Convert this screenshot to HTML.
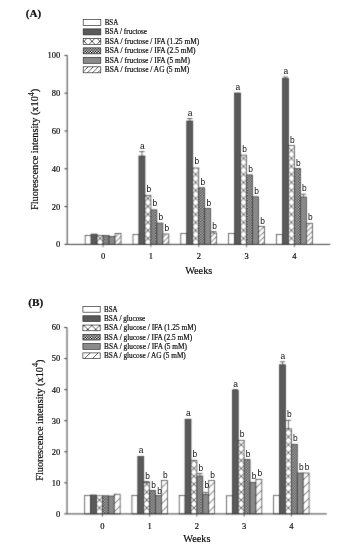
<!DOCTYPE html>
<html><head><meta charset="utf-8"><style>
html,body{margin:0;padding:0;background:#fff;width:349px;height:550px;overflow:hidden;}
svg{display:block;will-change:transform;}
text{fill:#111;stroke:#111;stroke-width:0.2px;}
.lb{stroke-width:0;}
</style></head><body>
<svg width="349" height="550" viewBox="0 0 349 550">
<defs><pattern id="pC" patternUnits="userSpaceOnUse" width="2.6" height="2.6"><rect width="2.6" height="2.6" fill="#ffffff"/><rect width="1.3" height="1.3" fill="#000000"/><rect x="1.3" y="1.3" width="1.3" height="1.3" fill="#000000"/></pattern>
<pattern id="px1" patternUnits="userSpaceOnUse" x="96.09" y="234.4" width="8" height="8"><rect width="8" height="8" fill="#fff"/><path d="M0,0L8,8M8,0L0,8" stroke="#333333" stroke-width="0.8" fill="none"/></pattern>
<pattern id="ph2" patternUnits="userSpaceOnUse" x="357.44" y="0" width="5.1" height="5.1"><rect width="5.1" height="5.1" fill="#fff"/><path d="M-1,1L1,-1M-1,6.1L6.1,-1M4.1,6.1L6.1,4.1" stroke="#333333" stroke-width="0.8" fill="none"/></pattern>
<pattern id="px3" patternUnits="userSpaceOnUse" x="143.92" y="234.4" width="8" height="8"><rect width="8" height="8" fill="#fff"/><path d="M0,0L8,8M8,0L0,8" stroke="#333333" stroke-width="0.8" fill="none"/></pattern>
<pattern id="ph4" patternUnits="userSpaceOnUse" x="405.27" y="0" width="5.1" height="5.1"><rect width="5.1" height="5.1" fill="#fff"/><path d="M-1,1L1,-1M-1,6.1L6.1,-1M4.1,6.1L6.1,4.1" stroke="#333333" stroke-width="0.8" fill="none"/></pattern>
<pattern id="px5" patternUnits="userSpaceOnUse" x="191.76" y="234.4" width="8" height="8"><rect width="8" height="8" fill="#fff"/><path d="M0,0L8,8M8,0L0,8" stroke="#333333" stroke-width="0.8" fill="none"/></pattern>
<pattern id="ph6" patternUnits="userSpaceOnUse" x="453.11" y="0" width="5.1" height="5.1"><rect width="5.1" height="5.1" fill="#fff"/><path d="M-1,1L1,-1M-1,6.1L6.1,-1M4.1,6.1L6.1,4.1" stroke="#333333" stroke-width="0.8" fill="none"/></pattern>
<pattern id="px7" patternUnits="userSpaceOnUse" x="239.6" y="234.4" width="8" height="8"><rect width="8" height="8" fill="#fff"/><path d="M0,0L8,8M8,0L0,8" stroke="#333333" stroke-width="0.8" fill="none"/></pattern>
<pattern id="ph8" patternUnits="userSpaceOnUse" x="500.95" y="0" width="5.1" height="5.1"><rect width="5.1" height="5.1" fill="#fff"/><path d="M-1,1L1,-1M-1,6.1L6.1,-1M4.1,6.1L6.1,4.1" stroke="#333333" stroke-width="0.8" fill="none"/></pattern>
<pattern id="px9" patternUnits="userSpaceOnUse" x="287.43" y="234.4" width="8" height="8"><rect width="8" height="8" fill="#fff"/><path d="M0,0L8,8M8,0L0,8" stroke="#333333" stroke-width="0.8" fill="none"/></pattern>
<pattern id="ph10" patternUnits="userSpaceOnUse" x="548.78" y="0" width="5.1" height="5.1"><rect width="5.1" height="5.1" fill="#fff"/><path d="M-1,1L1,-1M-1,6.1L6.1,-1M4.1,6.1L6.1,4.1" stroke="#333333" stroke-width="0.8" fill="none"/></pattern>
<pattern id="px11" patternUnits="userSpaceOnUse" x="88" y="37.36" width="8" height="8"><rect width="8" height="8" fill="#fff"/><path d="M0,0L8,8M8,0L0,8" stroke="#333333" stroke-width="0.8" fill="none"/></pattern>
<pattern id="ph12" patternUnits="userSpaceOnUse" x="155" y="0" width="5.1" height="5.1"><rect width="5.1" height="5.1" fill="#fff"/><path d="M-1,1L1,-1M-1,6.1L6.1,-1M4.1,6.1L6.1,4.1" stroke="#333333" stroke-width="0.8" fill="none"/></pattern>
<pattern id="px13" patternUnits="userSpaceOnUse" x="95.53" y="503.95" width="7.9" height="7.9"><rect width="7.9" height="7.9" fill="#fff"/><path d="M0,0L7.9,7.9M7.9,0L0,7.9" stroke="#333333" stroke-width="0.8" fill="none"/></pattern>
<pattern id="ph14" patternUnits="userSpaceOnUse" x="626.14" y="0" width="8" height="8"><rect width="8" height="8" fill="#fff"/><path d="M-1,1L1,-1M-1,9L9,-1M7,9L9,7" stroke="#333333" stroke-width="0.8" fill="none"/></pattern>
<pattern id="px15" patternUnits="userSpaceOnUse" x="142.76" y="503.95" width="7.9" height="7.9"><rect width="7.9" height="7.9" fill="#fff"/><path d="M0,0L7.9,7.9M7.9,0L0,7.9" stroke="#333333" stroke-width="0.8" fill="none"/></pattern>
<pattern id="ph16" patternUnits="userSpaceOnUse" x="673.37" y="0" width="8" height="8"><rect width="8" height="8" fill="#fff"/><path d="M-1,1L1,-1M-1,9L9,-1M7,9L9,7" stroke="#333333" stroke-width="0.8" fill="none"/></pattern>
<pattern id="px17" patternUnits="userSpaceOnUse" x="190" y="503.95" width="7.9" height="7.9"><rect width="7.9" height="7.9" fill="#fff"/><path d="M0,0L7.9,7.9M7.9,0L0,7.9" stroke="#333333" stroke-width="0.8" fill="none"/></pattern>
<pattern id="ph18" patternUnits="userSpaceOnUse" x="720.61" y="0" width="8" height="8"><rect width="8" height="8" fill="#fff"/><path d="M-1,1L1,-1M-1,9L9,-1M7,9L9,7" stroke="#333333" stroke-width="0.8" fill="none"/></pattern>
<pattern id="px19" patternUnits="userSpaceOnUse" x="237.23" y="503.95" width="7.9" height="7.9"><rect width="7.9" height="7.9" fill="#fff"/><path d="M0,0L7.9,7.9M7.9,0L0,7.9" stroke="#333333" stroke-width="0.8" fill="none"/></pattern>
<pattern id="ph20" patternUnits="userSpaceOnUse" x="767.85" y="0" width="8" height="8"><rect width="8" height="8" fill="#fff"/><path d="M-1,1L1,-1M-1,9L9,-1M7,9L9,7" stroke="#333333" stroke-width="0.8" fill="none"/></pattern>
<pattern id="px21" patternUnits="userSpaceOnUse" x="284.47" y="503.95" width="7.9" height="7.9"><rect width="7.9" height="7.9" fill="#fff"/><path d="M0,0L7.9,7.9M7.9,0L0,7.9" stroke="#333333" stroke-width="0.8" fill="none"/></pattern>
<pattern id="ph22" patternUnits="userSpaceOnUse" x="815.08" y="0" width="8" height="8"><rect width="8" height="8" fill="#fff"/><path d="M-1,1L1,-1M-1,9L9,-1M7,9L9,7" stroke="#333333" stroke-width="0.8" fill="none"/></pattern>
<pattern id="px23" patternUnits="userSpaceOnUse" x="87.8" y="321.51" width="7.9" height="7.9"><rect width="7.9" height="7.9" fill="#fff"/><path d="M0,0L7.9,7.9M7.9,0L0,7.9" stroke="#333333" stroke-width="0.8" fill="none"/></pattern>
<pattern id="ph24" patternUnits="userSpaceOnUse" x="443.1" y="0" width="8" height="8"><rect width="8" height="8" fill="#fff"/><path d="M-1,1L1,-1M-1,9L9,-1M7,9L9,7" stroke="#333333" stroke-width="0.8" fill="none"/></pattern>
<filter id="soft" filterUnits="userSpaceOnUse" x="0" y="0" width="349" height="550" color-interpolation-filters="sRGB"><feConvolveMatrix order="3" kernelMatrix="1 5 1 5 24 5 1 5 1" edgeMode="duplicate"/></filter></defs>
<g filter="url(#soft)">
<rect width="349" height="550" fill="#fff"/>
<rect x="85.14" y="235.4" width="5.98" height="9" fill="#ffffff" stroke="#333333" stroke-width="0.7"/>
<rect x="91.12" y="234.1" width="5.98" height="10.3" fill="#5a5a5a" stroke="#333333" stroke-width="0.7"/>
<rect x="97.1" y="235.6" width="5.98" height="8.8" fill="url(#px1)" stroke="#333333" stroke-width="0.7"/>
<rect x="103.08" y="235.6" width="5.98" height="8.8" fill="url(#pC)" stroke="#333333" stroke-width="0.7"/>
<rect x="109.06" y="236.4" width="5.98" height="8" fill="#8a8a8a" stroke="#333333" stroke-width="0.7"/>
<rect x="115.04" y="233.4" width="5.98" height="11" fill="url(#ph2)" stroke="#333333" stroke-width="0.7"/>
<path d="M103.08,244.4V247.2" stroke="#333333" stroke-width="0.7"/>
<rect x="132.98" y="234.4" width="5.98" height="10" fill="#ffffff" stroke="#333333" stroke-width="0.7"/>
<rect x="138.95" y="156" width="5.98" height="88.4" fill="#5a5a5a" stroke="#333333" stroke-width="0.7"/>
<path d="M141.94,156V151.6M139.24,151.6H144.64" stroke="#444444" stroke-width="0.8" fill="none"/>
<rect x="144.93" y="195.4" width="5.98" height="49" fill="url(#px3)" stroke="#333333" stroke-width="0.7"/>
<rect x="150.91" y="209.9" width="5.98" height="34.5" fill="url(#pC)" stroke="#333333" stroke-width="0.7"/>
<rect x="156.89" y="223.1" width="5.98" height="21.3" fill="#8a8a8a" stroke="#333333" stroke-width="0.7"/>
<rect x="162.87" y="234" width="5.98" height="10.4" fill="url(#ph4)" stroke="#333333" stroke-width="0.7"/>
<path d="M150.91,244.4V247.2" stroke="#333333" stroke-width="0.7"/>
<rect x="180.81" y="233.6" width="5.98" height="10.8" fill="#ffffff" stroke="#333333" stroke-width="0.7"/>
<rect x="186.79" y="121" width="5.98" height="123.4" fill="#5a5a5a" stroke="#333333" stroke-width="0.7"/>
<path d="M189.78,121V118.5M187.08,118.5H192.48" stroke="#444444" stroke-width="0.8" fill="none"/>
<rect x="192.77" y="168" width="5.98" height="76.4" fill="url(#px5)" stroke="#333333" stroke-width="0.7"/>
<rect x="198.75" y="187.8" width="5.98" height="56.6" fill="url(#pC)" stroke="#333333" stroke-width="0.7"/>
<rect x="204.73" y="208.5" width="5.98" height="35.9" fill="#8a8a8a" stroke="#333333" stroke-width="0.7"/>
<rect x="210.71" y="233" width="5.98" height="11.4" fill="url(#ph6)" stroke="#333333" stroke-width="0.7"/>
<path d="M213.7,233V231.6M211,231.6H216.4" stroke="#444444" stroke-width="0.8" fill="none"/>
<path d="M198.75,244.4V247.2" stroke="#333333" stroke-width="0.7"/>
<rect x="228.65" y="233.6" width="5.98" height="10.8" fill="#ffffff" stroke="#333333" stroke-width="0.7"/>
<rect x="234.63" y="93" width="5.98" height="151.4" fill="#5a5a5a" stroke="#333333" stroke-width="0.7"/>
<rect x="240.61" y="155.1" width="5.98" height="89.3" fill="url(#px7)" stroke="#333333" stroke-width="0.7"/>
<rect x="246.59" y="174.9" width="5.98" height="69.5" fill="url(#pC)" stroke="#333333" stroke-width="0.7"/>
<rect x="252.57" y="196.8" width="5.98" height="47.6" fill="#8a8a8a" stroke="#333333" stroke-width="0.7"/>
<rect x="258.55" y="226.6" width="5.98" height="17.8" fill="url(#ph8)" stroke="#333333" stroke-width="0.7"/>
<path d="M246.59,244.4V247.2" stroke="#333333" stroke-width="0.7"/>
<rect x="276.48" y="234.4" width="5.98" height="10" fill="#ffffff" stroke="#333333" stroke-width="0.7"/>
<rect x="282.46" y="78.5" width="5.98" height="165.9" fill="#5a5a5a" stroke="#333333" stroke-width="0.7"/>
<path d="M285.45,78.5V77M282.75,77H288.15" stroke="#444444" stroke-width="0.8" fill="none"/>
<rect x="288.44" y="145.5" width="5.98" height="98.9" fill="url(#px9)" stroke="#333333" stroke-width="0.7"/>
<rect x="294.42" y="168.5" width="5.98" height="75.9" fill="url(#pC)" stroke="#333333" stroke-width="0.7"/>
<rect x="300.4" y="197" width="5.98" height="47.4" fill="#8a8a8a" stroke="#333333" stroke-width="0.7"/>
<path d="M303.39,197V194.2M300.69,194.2H306.09" stroke="#444444" stroke-width="0.8" fill="none"/>
<rect x="306.38" y="223.3" width="5.98" height="21.1" fill="url(#ph10)" stroke="#333333" stroke-width="0.7"/>
<path d="M294.42,244.4V247.2" stroke="#333333" stroke-width="0.7"/>
<path d="M67.2,55.4V244.4H330.3" stroke="#3c3c3c" stroke-width="1.0" fill="none"/>
<path d="M64.4,244.4H67.2" stroke="#3c3c3c" stroke-width="1.0"/>
<path d="M64.4,206.6H67.2" stroke="#3c3c3c" stroke-width="1.0"/>
<path d="M64.4,168.8H67.2" stroke="#3c3c3c" stroke-width="1.0"/>
<path d="M64.4,131H67.2" stroke="#3c3c3c" stroke-width="1.0"/>
<path d="M64.4,93.2H67.2" stroke="#3c3c3c" stroke-width="1.0"/>
<path d="M64.4,55.4H67.2" stroke="#3c3c3c" stroke-width="1.0"/>
<rect x="84.71" y="495.4" width="5.9" height="18.5" fill="#ffffff" stroke="#333333" stroke-width="0.7"/>
<rect x="90.62" y="495" width="5.9" height="18.9" fill="#5a5a5a" stroke="#333333" stroke-width="0.7"/>
<rect x="96.52" y="495.8" width="5.9" height="18.1" fill="url(#px13)" stroke="#333333" stroke-width="0.7"/>
<rect x="102.43" y="495.8" width="5.9" height="18.1" fill="url(#pC)" stroke="#333333" stroke-width="0.7"/>
<rect x="108.33" y="496" width="5.9" height="17.9" fill="#8a8a8a" stroke="#333333" stroke-width="0.7"/>
<rect x="114.24" y="494.2" width="5.9" height="19.7" fill="url(#ph14)" stroke="#333333" stroke-width="0.7"/>
<path d="M102.43,513.9V516.7" stroke="#333333" stroke-width="0.7"/>
<rect x="131.95" y="495.5" width="5.9" height="18.4" fill="#ffffff" stroke="#333333" stroke-width="0.7"/>
<rect x="137.85" y="456.5" width="5.9" height="57.4" fill="#5a5a5a" stroke="#333333" stroke-width="0.7"/>
<rect x="143.76" y="482.6" width="5.9" height="31.3" fill="url(#px15)" stroke="#333333" stroke-width="0.7"/>
<path d="M146.71,482.6V481.6M144.01,481.6H149.41" stroke="#444444" stroke-width="0.8" fill="none"/>
<rect x="149.66" y="490.5" width="5.9" height="23.4" fill="url(#pC)" stroke="#333333" stroke-width="0.7"/>
<rect x="155.57" y="495.6" width="5.9" height="18.3" fill="#8a8a8a" stroke="#333333" stroke-width="0.7"/>
<rect x="161.47" y="480.6" width="5.9" height="33.3" fill="url(#ph16)" stroke="#333333" stroke-width="0.7"/>
<path d="M149.66,513.9V516.7" stroke="#333333" stroke-width="0.7"/>
<rect x="179.19" y="495.4" width="5.9" height="18.5" fill="#ffffff" stroke="#333333" stroke-width="0.7"/>
<rect x="185.09" y="419.2" width="5.9" height="94.7" fill="#5a5a5a" stroke="#333333" stroke-width="0.7"/>
<rect x="191" y="460.3" width="5.9" height="53.6" fill="url(#px17)" stroke="#333333" stroke-width="0.7"/>
<rect x="196.9" y="476" width="5.9" height="37.9" fill="url(#pC)" stroke="#333333" stroke-width="0.7"/>
<path d="M199.85,476V473.5M197.15,473.5H202.55" stroke="#444444" stroke-width="0.8" fill="none"/>
<rect x="202.8" y="494.5" width="5.9" height="19.4" fill="#8a8a8a" stroke="#333333" stroke-width="0.7"/>
<path d="M205.76,494.5V492.5M203.06,492.5H208.46" stroke="#444444" stroke-width="0.8" fill="none"/>
<rect x="208.71" y="480.5" width="5.9" height="33.4" fill="url(#ph18)" stroke="#333333" stroke-width="0.7"/>
<path d="M196.9,513.9V516.7" stroke="#333333" stroke-width="0.7"/>
<rect x="226.42" y="495.8" width="5.9" height="18.1" fill="#ffffff" stroke="#333333" stroke-width="0.7"/>
<rect x="232.33" y="390.5" width="5.9" height="123.4" fill="#5a5a5a" stroke="#333333" stroke-width="0.7"/>
<path d="M235.28,390.5V389.5M232.58,389.5H237.98" stroke="#444444" stroke-width="0.8" fill="none"/>
<rect x="238.23" y="440.3" width="5.9" height="73.6" fill="url(#px19)" stroke="#333333" stroke-width="0.7"/>
<rect x="244.14" y="459.5" width="5.9" height="54.4" fill="url(#pC)" stroke="#333333" stroke-width="0.7"/>
<rect x="250.04" y="482.3" width="5.9" height="31.6" fill="#8a8a8a" stroke="#333333" stroke-width="0.7"/>
<rect x="255.95" y="479.3" width="5.9" height="34.6" fill="url(#ph20)" stroke="#333333" stroke-width="0.7"/>
<path d="M244.14,513.9V516.7" stroke="#333333" stroke-width="0.7"/>
<rect x="273.66" y="495.3" width="5.9" height="18.6" fill="#ffffff" stroke="#333333" stroke-width="0.7"/>
<rect x="279.56" y="364.8" width="5.9" height="149.1" fill="#5a5a5a" stroke="#333333" stroke-width="0.7"/>
<path d="M282.52,364.8V361.8M279.82,361.8H285.22" stroke="#444444" stroke-width="0.8" fill="none"/>
<rect x="285.47" y="428.8" width="5.9" height="85.1" fill="url(#px21)" stroke="#333333" stroke-width="0.7"/>
<path d="M288.42,428.8V420.4M285.72,420.4H291.12" stroke="#444444" stroke-width="0.8" fill="none"/>
<rect x="291.37" y="444.3" width="5.9" height="69.6" fill="url(#pC)" stroke="#333333" stroke-width="0.7"/>
<rect x="297.28" y="473" width="5.9" height="40.9" fill="#8a8a8a" stroke="#333333" stroke-width="0.7"/>
<rect x="303.18" y="473" width="5.9" height="40.9" fill="url(#ph22)" stroke="#333333" stroke-width="0.7"/>
<path d="M291.37,513.9V516.7" stroke="#333333" stroke-width="0.7"/>
<path d="M67,327.5V513.9H326.8" stroke="#3c3c3c" stroke-width="1.0" fill="none"/>
<path d="M64.2,513.9H67" stroke="#3c3c3c" stroke-width="1.0"/>
<path d="M64.2,482.83H67" stroke="#3c3c3c" stroke-width="1.0"/>
<path d="M64.2,451.77H67" stroke="#3c3c3c" stroke-width="1.0"/>
<path d="M64.2,420.7H67" stroke="#3c3c3c" stroke-width="1.0"/>
<path d="M64.2,389.63H67" stroke="#3c3c3c" stroke-width="1.0"/>
<path d="M64.2,358.57H67" stroke="#3c3c3c" stroke-width="1.0"/>
<path d="M64.2,327.5H67" stroke="#3c3c3c" stroke-width="1.0"/>
</g>
<rect class="leg" x="83.2" y="19.4" width="17.6" height="6" fill="#ffffff" stroke="#333333" stroke-width="0.7"/>
<rect class="leg" x="83.2" y="28.88" width="17.6" height="6" fill="#5a5a5a" stroke="#333333" stroke-width="0.7"/>
<rect class="leg" x="83.2" y="38.36" width="17.6" height="6" fill="url(#px11)" stroke="#333333" stroke-width="0.7"/>
<rect class="leg" x="83.2" y="47.84" width="17.6" height="6" fill="url(#pC)" stroke="#333333" stroke-width="0.7"/>
<rect class="leg" x="83.2" y="57.32" width="17.6" height="6" fill="#8a8a8a" stroke="#333333" stroke-width="0.7"/>
<rect class="leg" x="83.2" y="66.8" width="17.6" height="6" fill="url(#ph12)" stroke="#333333" stroke-width="0.7"/>
<rect class="leg" x="82.9" y="306.5" width="17.3" height="5.7" fill="#ffffff" stroke="#333333" stroke-width="0.7"/>
<rect class="leg" x="82.9" y="315.78" width="17.3" height="5.7" fill="#5a5a5a" stroke="#333333" stroke-width="0.7"/>
<rect class="leg" x="82.9" y="325.06" width="17.3" height="5.7" fill="url(#px23)" stroke="#333333" stroke-width="0.7"/>
<rect class="leg" x="82.9" y="334.34" width="17.3" height="5.7" fill="url(#pC)" stroke="#333333" stroke-width="0.7"/>
<rect class="leg" x="82.9" y="343.62" width="17.3" height="5.7" fill="#8a8a8a" stroke="#333333" stroke-width="0.7"/>
<rect class="leg" x="82.9" y="352.9" width="17.3" height="5.7" fill="url(#ph24)" stroke="#333333" stroke-width="0.7"/>
<text x="25.8" y="16.8" font-family='"Liberation Serif", serif' font-weight="bold" font-size="10.5" textLength="15.4" lengthAdjust="spacingAndGlyphs">(A)</text>
<text x="103.08" y="259.3" text-anchor="middle" font-family='"Liberation Serif", serif' font-size="8.5">0</text>
<text x="142.24" y="148.6" text-anchor="middle" class="lb" font-family='"Liberation Sans", sans-serif' font-size="8.4">a</text>
<text x="148.92" y="192.4" text-anchor="middle" class="lb" font-family='"Liberation Sans", sans-serif' font-size="8.4">b</text>
<text x="154.9" y="206.1" text-anchor="middle" class="lb" font-family='"Liberation Sans", sans-serif' font-size="8.4">b</text>
<text x="160.88" y="220.1" text-anchor="middle" class="lb" font-family='"Liberation Sans", sans-serif' font-size="8.4">b</text>
<text x="166.86" y="231" text-anchor="middle" class="lb" font-family='"Liberation Sans", sans-serif' font-size="8.4">b</text>
<text x="150.91" y="259.3" text-anchor="middle" font-family='"Liberation Serif", serif' font-size="8.5">1</text>
<text x="190.08" y="115.5" text-anchor="middle" class="lb" font-family='"Liberation Sans", sans-serif' font-size="8.4">a</text>
<text x="196.76" y="164.2" text-anchor="middle" class="lb" font-family='"Liberation Sans", sans-serif' font-size="8.4">b</text>
<text x="202.74" y="184.8" text-anchor="middle" class="lb" font-family='"Liberation Sans", sans-serif' font-size="8.4">b</text>
<text x="208.72" y="205.5" text-anchor="middle" class="lb" font-family='"Liberation Sans", sans-serif' font-size="8.4">b</text>
<text x="214.7" y="228.6" text-anchor="middle" class="lb" font-family='"Liberation Sans", sans-serif' font-size="8.4">b</text>
<text x="198.75" y="259.3" text-anchor="middle" font-family='"Liberation Serif", serif' font-size="8.5">2</text>
<text x="237.92" y="89.5" text-anchor="middle" class="lb" font-family='"Liberation Sans", sans-serif' font-size="8.4">a</text>
<text x="244.6" y="152.1" text-anchor="middle" class="lb" font-family='"Liberation Sans", sans-serif' font-size="8.4">b</text>
<text x="250.58" y="171.9" text-anchor="middle" class="lb" font-family='"Liberation Sans", sans-serif' font-size="8.4">b</text>
<text x="256.56" y="193.8" text-anchor="middle" class="lb" font-family='"Liberation Sans", sans-serif' font-size="8.4">b</text>
<text x="262.54" y="223.6" text-anchor="middle" class="lb" font-family='"Liberation Sans", sans-serif' font-size="8.4">b</text>
<text x="246.59" y="259.3" text-anchor="middle" font-family='"Liberation Serif", serif' font-size="8.5">3</text>
<text x="285.75" y="74" text-anchor="middle" class="lb" font-family='"Liberation Sans", sans-serif' font-size="8.4">a</text>
<text x="292.43" y="142.5" text-anchor="middle" class="lb" font-family='"Liberation Sans", sans-serif' font-size="8.4">b</text>
<text x="298.41" y="165.5" text-anchor="middle" class="lb" font-family='"Liberation Sans", sans-serif' font-size="8.4">b</text>
<text x="304.39" y="191.2" text-anchor="middle" class="lb" font-family='"Liberation Sans", sans-serif' font-size="8.4">b</text>
<text x="310.37" y="220.3" text-anchor="middle" class="lb" font-family='"Liberation Sans", sans-serif' font-size="8.4">b</text>
<text x="294.42" y="259.3" text-anchor="middle" font-family='"Liberation Serif", serif' font-size="8.5">4</text>
<text x="60.2" y="247.3" text-anchor="end" font-family='"Liberation Serif", serif' font-size="8.5">0</text>
<text x="60.2" y="209.5" text-anchor="end" font-family='"Liberation Serif", serif' font-size="8.5">20</text>
<text x="60.2" y="171.7" text-anchor="end" font-family='"Liberation Serif", serif' font-size="8.5">40</text>
<text x="60.2" y="133.9" text-anchor="end" font-family='"Liberation Serif", serif' font-size="8.5">60</text>
<text x="60.2" y="96.1" text-anchor="end" font-family='"Liberation Serif", serif' font-size="8.5">80</text>
<text x="60.2" y="58.3" text-anchor="end" font-family='"Liberation Serif", serif' font-size="8.5">100</text>
<text transform="translate(37.9,149.4) rotate(-90)" x="0" y="0" text-anchor="middle" font-family='"Liberation Serif", serif' font-size="10.3">Fluorescence intensity (x10<tspan dy="-4.3" font-size="8">4</tspan><tspan dy="4.3">)</tspan></text>
<text x="198.75" y="273.5" text-anchor="middle" font-family='"Liberation Serif", serif' font-size="10.3">Weeks</text>
<text x="104.7" y="24.7" font-family='"Liberation Serif", serif' font-size="7.3" textLength="13.6" lengthAdjust="spacingAndGlyphs">BSA</text>
<text x="104.7" y="34.18" font-family='"Liberation Serif", serif' font-size="7.3" textLength="42.3" lengthAdjust="spacingAndGlyphs">BSA / fructose</text>
<text x="104.7" y="43.66" font-family='"Liberation Serif", serif' font-size="7.3" textLength="94.6" lengthAdjust="spacingAndGlyphs">BSA / fructose / IFA (1.25 mM)</text>
<text x="104.7" y="53.14" font-family='"Liberation Serif", serif' font-size="7.3" textLength="90.9" lengthAdjust="spacingAndGlyphs">BSA / fructose / IFA (2.5 mM)</text>
<text x="104.7" y="62.62" font-family='"Liberation Serif", serif' font-size="7.3" textLength="85.2" lengthAdjust="spacingAndGlyphs">BSA / fructose / IFA (5 mM)</text>
<text x="104.7" y="72.1" font-family='"Liberation Serif", serif' font-size="7.3" textLength="84.6" lengthAdjust="spacingAndGlyphs">BSA / fructose / AG (5 mM)</text>
<text x="28.2" y="305.8" font-family='"Liberation Serif", serif' font-weight="bold" font-size="10.5" textLength="15" lengthAdjust="spacingAndGlyphs">(B)</text>
<text x="102.43" y="528.7" text-anchor="middle" font-family='"Liberation Serif", serif' font-size="8.5">0</text>
<text x="141.11" y="453" text-anchor="middle" class="lb" font-family='"Liberation Sans", sans-serif' font-size="8.4">a</text>
<text x="147.71" y="478.6" text-anchor="middle" class="lb" font-family='"Liberation Sans", sans-serif' font-size="8.4">b</text>
<text x="153.62" y="487.5" text-anchor="middle" class="lb" font-family='"Liberation Sans", sans-serif' font-size="8.4">b</text>
<text x="159.52" y="493.8" text-anchor="middle" class="lb" font-family='"Liberation Sans", sans-serif' font-size="8.4">b</text>
<text x="165.43" y="477.6" text-anchor="middle" class="lb" font-family='"Liberation Sans", sans-serif' font-size="8.4">b</text>
<text x="149.66" y="528.7" text-anchor="middle" font-family='"Liberation Serif", serif' font-size="8.5">1</text>
<text x="188.34" y="416.2" text-anchor="middle" class="lb" font-family='"Liberation Sans", sans-serif' font-size="8.4">a</text>
<text x="194.95" y="457.3" text-anchor="middle" class="lb" font-family='"Liberation Sans", sans-serif' font-size="8.4">b</text>
<text x="200.85" y="470.5" text-anchor="middle" class="lb" font-family='"Liberation Sans", sans-serif' font-size="8.4">b</text>
<text x="206.76" y="488.2" text-anchor="middle" class="lb" font-family='"Liberation Sans", sans-serif' font-size="8.4">b</text>
<text x="212.66" y="477.5" text-anchor="middle" class="lb" font-family='"Liberation Sans", sans-serif' font-size="8.4">b</text>
<text x="196.9" y="528.7" text-anchor="middle" font-family='"Liberation Serif", serif' font-size="8.5">2</text>
<text x="235.58" y="386.5" text-anchor="middle" class="lb" font-family='"Liberation Sans", sans-serif' font-size="8.4">a</text>
<text x="242.18" y="437.3" text-anchor="middle" class="lb" font-family='"Liberation Sans", sans-serif' font-size="8.4">b</text>
<text x="248.09" y="456.5" text-anchor="middle" class="lb" font-family='"Liberation Sans", sans-serif' font-size="8.4">b</text>
<text x="253.99" y="479.3" text-anchor="middle" class="lb" font-family='"Liberation Sans", sans-serif' font-size="8.4">b</text>
<text x="259.9" y="476.3" text-anchor="middle" class="lb" font-family='"Liberation Sans", sans-serif' font-size="8.4">b</text>
<text x="244.14" y="528.7" text-anchor="middle" font-family='"Liberation Serif", serif' font-size="8.5">3</text>
<text x="282.82" y="358.8" text-anchor="middle" class="lb" font-family='"Liberation Sans", sans-serif' font-size="8.4">a</text>
<text x="289.42" y="417.4" text-anchor="middle" class="lb" font-family='"Liberation Sans", sans-serif' font-size="8.4">b</text>
<text x="295.32" y="441.3" text-anchor="middle" class="lb" font-family='"Liberation Sans", sans-serif' font-size="8.4">b</text>
<text x="301.23" y="470" text-anchor="middle" class="lb" font-family='"Liberation Sans", sans-serif' font-size="8.4">b</text>
<text x="307.13" y="470" text-anchor="middle" class="lb" font-family='"Liberation Sans", sans-serif' font-size="8.4">b</text>
<text x="291.37" y="528.7" text-anchor="middle" font-family='"Liberation Serif", serif' font-size="8.5">4</text>
<text x="60.2" y="516.8" text-anchor="end" font-family='"Liberation Serif", serif' font-size="8.5">0</text>
<text x="60.2" y="485.73" text-anchor="end" font-family='"Liberation Serif", serif' font-size="8.5">10</text>
<text x="60.2" y="454.67" text-anchor="end" font-family='"Liberation Serif", serif' font-size="8.5">20</text>
<text x="60.2" y="423.6" text-anchor="end" font-family='"Liberation Serif", serif' font-size="8.5">30</text>
<text x="60.2" y="392.53" text-anchor="end" font-family='"Liberation Serif", serif' font-size="8.5">40</text>
<text x="60.2" y="361.47" text-anchor="end" font-family='"Liberation Serif", serif' font-size="8.5">50</text>
<text x="60.2" y="330.4" text-anchor="end" font-family='"Liberation Serif", serif' font-size="8.5">60</text>
<text transform="translate(42.5,420.2) rotate(-90)" x="0" y="0" text-anchor="middle" font-family='"Liberation Serif", serif' font-size="10.3">Fluorescence intensity (x10<tspan dy="-4.3" font-size="8">4</tspan><tspan dy="4.3">)</tspan></text>
<text x="196.9" y="541.8" text-anchor="middle" font-family='"Liberation Serif", serif' font-size="10.3">Weeks</text>
<text x="104" y="311.8" font-family='"Liberation Serif", serif' font-size="7.3" textLength="13.6" lengthAdjust="spacingAndGlyphs">BSA</text>
<text x="104" y="321.08" font-family='"Liberation Serif", serif' font-size="7.3" textLength="41.3" lengthAdjust="spacingAndGlyphs">BSA / glucose</text>
<text x="104" y="330.36" font-family='"Liberation Serif", serif' font-size="7.3" textLength="92.1" lengthAdjust="spacingAndGlyphs">BSA / glucose / IFA (1.25 mM)</text>
<text x="104" y="339.64" font-family='"Liberation Serif", serif' font-size="7.3" textLength="88.1" lengthAdjust="spacingAndGlyphs">BSA / glucose / IFA (2.5 mM)</text>
<text x="104" y="348.92" font-family='"Liberation Serif", serif' font-size="7.3" textLength="83" lengthAdjust="spacingAndGlyphs">BSA / glucose / IFA (5 mM)</text>
<text x="104" y="358.2" font-family='"Liberation Serif", serif' font-size="7.3" textLength="81.8" lengthAdjust="spacingAndGlyphs">BSA / glucose / AG (5 mM)</text>
</svg>
</body></html>
